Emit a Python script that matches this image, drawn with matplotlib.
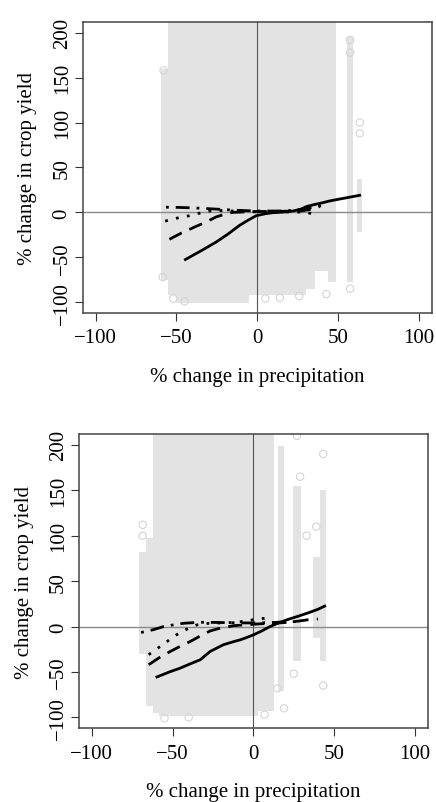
import matplotlib
matplotlib.use("Agg")
import matplotlib.pyplot as plt

plt.rcParams['font.family'] = ['Liberation Serif', 'DejaVu Serif']

x_ticks = [-100, -50, 0, 50, 100]
y_ticks = [-100, -50, 0, 50, 100, 150, 200]
x_title = "% change in precipitation"
y_title = "% change in crop yield"

# --- top panel -------------------------------------------------------
# gray point cloud, read as vertical bands: left, right, low, high
top_band_x0 = [-59.5, -55.5, -50, -5, 30, 36, 44, 55.5, 62]
top_band_x1 = [-55.5, -50, -5, 30, 36, 44, 48.5, 59, 65]
top_band_lo = [-75, -92, -101, -92, -85, -65, -78, -78, -22]
top_band_hi = [160, 215, 215, 215, 215, 215, 215, 195, 37]
top_out_x = [63.5, 63.5, 57.5, 42.8, -58.5, -58, 57.5, 57.5, -52, -45, 5, 14, 26]
top_out_y = [100, 88, -85, -91, -72, 158, 192, 178, -96, -99, -96, -95, -93]

top_solid_x = [-44.5, -35, -25.4, -18, -11, -5, -0.6, 5, 10, 16, 22, 27, 30.4, 36, 40, 44.8, 50, 56, 63.4]
top_solid_y = [-52.5, -43, -33, -24, -14.5, -8, -3.7, -1.5, -0.3, 0.3, 1.5, 3.5, 6.4, 9, 10.5, 12.7, 14.5, 16.5, 19]
top_dash_x = [-54.4, -47, -39.9, -32, -25.4, -20, -15, -8, 0, 8, 15, 22, 27, 32, 38.6]
top_dash_y = [-30, -23, -17.2, -11, -5, -2, 0, 0.5, 1, 1, 1.2, 1.5, 1.5, 3, 6.4]
top_dot_x = [-57, -50, -42, -36, -29.6, -22, -15, -8, 0, 8, 16, 24, 30, 34, 37.6]
top_dot_y = [-9.7, -6.5, -3.7, -1, 1.5, 2, 1.5, 1, 0.5, 0.5, 0.5, 0.5, 0, -1.5, -2]
top_dd_x = [-56.5, -48, -40, -32, -24, -15, -8, 0, 8, 16, 24, 32, 38, 43]
top_dd_y = [5.8, 5.5, 5, 4.3, 3.5, 2.5, 2, 1.5, 1.5, 1.5, 2.5, 5, 7, 8]

# --- bottom panel ----------------------------------------------------
bot_band_x0 = [-70.5, -66.5, -62, -58.5, 3, 15.3, 24.5, 37, 41.5]
bot_band_x1 = [-66.5, -62, -58.5, 3, 12.5, 18.8, 29.5, 41, 45.2]
bot_band_lo = [-30, -88, -95, -99, -93, -71, -38, -13, -38]
bot_band_hi = [82, 98, 215, 215, 215, 199, 155, 77, 150]
bot_out_x = [-68.5, -68.5, 43.3, 43.3, 39, 27, 25, 19, 15, 29, 33, -55, -40, 7]
bot_out_y = [112, 100, 190, -65, 110, 210, -52, -90, -68, 165, 100, -101, -100, -97]

bot_solid_x = [-59.7, -52, -45.2, -39, -32.9, -26.7, -18.5, -12, -8.2, -4, 0, 5, 10.3, 15, 20.6, 28, 35, 40, 44.2]
bot_solid_y = [-55.5, -50, -45.7, -41, -36.6, -27.4, -20, -16.5, -14.7, -12, -9.2, -5, 0, 3.5, 7.3, 11.5, 15.7, 19, 22.5]
bot_dash_x = [-64.8, -58, -51.4, -45, -39, -33, -26.7, -20, -12, -4, 4, 12, 20, 28, 34, 40]
bot_dash_y = [-42, -34, -27.4, -21.5, -16.4, -10.5, -4.8, -1.5, 1, 2, 3, 3.5, 4.5, 6, 7.5, 8.3]
bot_dot_x = [-64.8, -61, -57.6, -53, -49.4, -45, -42.2, -35, -28, -20, -12, -5, 0, 4, 8.3]
bot_dot_y = [-31, -26, -21.9, -16, -11, -6.5, -3.7, 1.8, 3.5, 4, 4.5, 6, 7.5, 8.5, 9.3]
bot_dd_x = [-69.5, -62, -55.6, -49, -43.2, -37, -30.9, -22, -14, -6, 2, 10, 18, 26.5]
bot_dd_y = [-6.5, -3.5, 0, 2, 3.6, 4.3, 4.7, 4.5, 4.2, 4, 4, 4.3, 5, 5.5]

cloud_col = "#e3e3e3"


def draw_panel(ax, bx0, bx1, blo, bhi, ox, oy, lines):
    for a, b, lo, hi in zip(bx0, bx1, blo, bhi):
        ax.fill_between([a, b], [lo, lo], [hi, hi], color=cloud_col, lw=0, zorder=1)
    ax.scatter(ox, oy, s=28, facecolors="none", edgecolors="#d4d4d4", linewidths=0.8, zorder=1)
    ax.axhline(0, color="#8a8a8a", lw=1.0, zorder=2)
    ax.axvline(0, color="#555555", lw=0.8, zorder=2)
    styles = ["-", (0, (5, 3)), (0, (1, 3)), (0, (1, 2.5, 5, 2.5))]
    for (xs, ys), ls in zip(lines, styles):
        ax.plot(xs, ys, color="black", lw=2.0, linestyle=ls, zorder=3)

    ax.set_xlim(-108, 108)
    ax.set_ylim(-112, 212)
    ax.set_xticks(x_ticks)
    ax.set_yticks(y_ticks)
    ax.set_xticklabels([str(v).replace("-", "\u2212") for v in x_ticks])
    ax.set_yticklabels([str(v).replace("-", "\u2212") for v in y_ticks],
                       rotation=90, va="center")
    ax.tick_params(direction="out", length=6, width=0.8, color="#333333",
                   labelsize=15, pad=2)
    ax.tick_params(axis="x", pad=5)
    for sp in ax.spines.values():
        sp.set_color("#444444")
        sp.set_linewidth(1.1)
    ax.set_xlabel(x_title, fontsize=15, labelpad=14)
    ax.set_ylabel(y_title, fontsize=15, labelpad=11)


fig = plt.figure(figsize=(4.36, 8.03), dpi=100)
ax1 = fig.add_axes([0.190, 0.609, 0.800, 0.3624])
ax2 = fig.add_axes([0.181, 0.0918, 0.800, 0.3665])

draw_panel(ax1, top_band_x0, top_band_x1, top_band_lo, top_band_hi, top_out_x, top_out_y,
           [(top_solid_x, top_solid_y), (top_dash_x, top_dash_y),
            (top_dot_x, top_dot_y), (top_dd_x, top_dd_y)])
draw_panel(ax2, bot_band_x0, bot_band_x1, bot_band_lo, bot_band_hi, bot_out_x, bot_out_y,
           [(bot_solid_x, bot_solid_y), (bot_dash_x, bot_dash_y),
            (bot_dot_x, bot_dot_y), (bot_dd_x, bot_dd_y)])

fig.savefig("out.png", dpi=100)
